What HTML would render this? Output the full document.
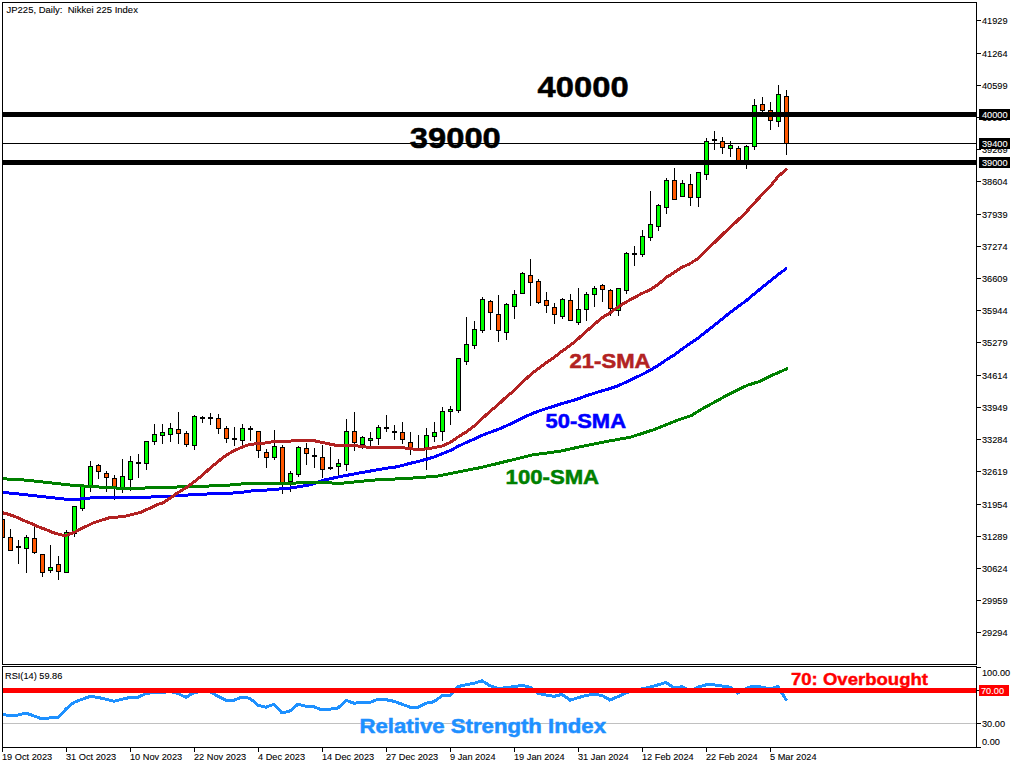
<!DOCTYPE html><html><head><meta charset="utf-8"><style>html,body{margin:0;padding:0;background:#fff;width:1024px;height:768px;overflow:hidden}svg{display:block}text{font-family:"Liberation Sans",sans-serif}</style></head><body>
<svg width="1024" height="768" viewBox="0 0 1024 768">
<rect x="0" y="0" width="1024" height="768" fill="#FFFFFF"/>
<defs><clipPath id="cm"><rect x="3" y="3" width="973" height="661"/></clipPath><clipPath id="cr"><rect x="3" y="667" width="973" height="80"/></clipPath></defs>
<g clip-path="url(#cm)">
<rect x="3" y="143" width="973" height="1" fill="#000000"/>
<g shape-rendering="crispEdges">
<rect x="2" y="519" width="1" height="19" fill="#000000"/>
<rect x="0" y="519" width="5" height="19" fill="#000000"/>
<rect x="1" y="520" width="3" height="17" fill="#FF5800"/>
<rect x="10" y="529" width="1" height="22" fill="#000000"/>
<rect x="8" y="537" width="5" height="14" fill="#000000"/>
<rect x="9" y="538" width="3" height="12" fill="#FF5800"/>
<rect x="18" y="540" width="1" height="24" fill="#000000"/>
<rect x="16" y="546" width="5" height="2" fill="#000000"/>
<rect x="26" y="535" width="1" height="38" fill="#000000"/>
<rect x="24" y="537" width="5" height="12" fill="#000000"/>
<rect x="25" y="538" width="3" height="10" fill="#00FF00"/>
<rect x="34" y="527" width="1" height="27" fill="#000000"/>
<rect x="32" y="538" width="5" height="15" fill="#000000"/>
<rect x="33" y="539" width="3" height="13" fill="#FF5800"/>
<rect x="42" y="554" width="1" height="23" fill="#000000"/>
<rect x="40" y="554" width="5" height="19" fill="#000000"/>
<rect x="41" y="555" width="3" height="17" fill="#FF5800"/>
<rect x="50" y="545" width="1" height="28" fill="#000000"/>
<rect x="48" y="567" width="5" height="4" fill="#000000"/>
<rect x="49" y="568" width="3" height="2" fill="#00FF00"/>
<rect x="58" y="556" width="1" height="24" fill="#000000"/>
<rect x="56" y="564" width="5" height="8" fill="#000000"/>
<rect x="57" y="565" width="3" height="6" fill="#FF5800"/>
<rect x="66" y="530" width="1" height="43" fill="#000000"/>
<rect x="64" y="532" width="5" height="41" fill="#000000"/>
<rect x="65" y="533" width="3" height="39" fill="#00FF00"/>
<rect x="74" y="506" width="1" height="31" fill="#000000"/>
<rect x="72" y="506" width="5" height="28" fill="#000000"/>
<rect x="73" y="507" width="3" height="26" fill="#00FF00"/>
<rect x="82" y="486" width="1" height="25" fill="#000000"/>
<rect x="80" y="486" width="5" height="23" fill="#000000"/>
<rect x="81" y="487" width="3" height="21" fill="#00FF00"/>
<rect x="90" y="461" width="1" height="31" fill="#000000"/>
<rect x="88" y="466" width="5" height="20" fill="#000000"/>
<rect x="89" y="467" width="3" height="18" fill="#00FF00"/>
<rect x="98" y="464" width="1" height="15" fill="#000000"/>
<rect x="96" y="465" width="5" height="7" fill="#000000"/>
<rect x="97" y="466" width="3" height="5" fill="#FF5800"/>
<rect x="106" y="471" width="1" height="21" fill="#000000"/>
<rect x="104" y="473" width="5" height="5" fill="#000000"/>
<rect x="105" y="474" width="3" height="3" fill="#FF5800"/>
<rect x="114" y="475" width="1" height="25" fill="#000000"/>
<rect x="112" y="478" width="5" height="9" fill="#000000"/>
<rect x="113" y="479" width="3" height="7" fill="#FF5800"/>
<rect x="122" y="459" width="1" height="34" fill="#000000"/>
<rect x="120" y="476" width="5" height="12" fill="#000000"/>
<rect x="121" y="477" width="3" height="10" fill="#00FF00"/>
<rect x="130" y="456" width="1" height="35" fill="#000000"/>
<rect x="128" y="461" width="5" height="19" fill="#000000"/>
<rect x="129" y="462" width="3" height="17" fill="#00FF00"/>
<rect x="138" y="454" width="1" height="24" fill="#000000"/>
<rect x="136" y="462" width="5" height="2" fill="#000000"/>
<rect x="146" y="441" width="1" height="29" fill="#000000"/>
<rect x="144" y="441" width="5" height="23" fill="#000000"/>
<rect x="145" y="442" width="3" height="21" fill="#00FF00"/>
<rect x="154" y="424" width="1" height="21" fill="#000000"/>
<rect x="152" y="434" width="5" height="8" fill="#000000"/>
<rect x="153" y="435" width="3" height="6" fill="#00FF00"/>
<rect x="162" y="424" width="1" height="20" fill="#000000"/>
<rect x="160" y="432" width="5" height="4" fill="#000000"/>
<rect x="161" y="433" width="3" height="2" fill="#00FF00"/>
<rect x="170" y="423" width="1" height="19" fill="#000000"/>
<rect x="168" y="428" width="5" height="7" fill="#000000"/>
<rect x="169" y="429" width="3" height="5" fill="#00FF00"/>
<rect x="178" y="412" width="1" height="32" fill="#000000"/>
<rect x="176" y="429" width="5" height="5" fill="#000000"/>
<rect x="177" y="430" width="3" height="3" fill="#FF5800"/>
<rect x="186" y="431" width="1" height="16" fill="#000000"/>
<rect x="184" y="433" width="5" height="12" fill="#000000"/>
<rect x="185" y="434" width="3" height="10" fill="#FF5800"/>
<rect x="194" y="415" width="1" height="35" fill="#000000"/>
<rect x="192" y="416" width="5" height="30" fill="#000000"/>
<rect x="193" y="417" width="3" height="28" fill="#00FF00"/>
<rect x="202" y="416" width="1" height="7" fill="#000000"/>
<rect x="200" y="417" width="5" height="2" fill="#000000"/>
<rect x="210" y="413" width="1" height="12" fill="#000000"/>
<rect x="208" y="417" width="5" height="2" fill="#000000"/>
<rect x="218" y="414" width="1" height="20" fill="#000000"/>
<rect x="216" y="418" width="5" height="11" fill="#000000"/>
<rect x="217" y="419" width="3" height="9" fill="#FF5800"/>
<rect x="226" y="426" width="1" height="17" fill="#000000"/>
<rect x="224" y="428" width="5" height="11" fill="#000000"/>
<rect x="225" y="429" width="3" height="9" fill="#FF5800"/>
<rect x="234" y="427" width="1" height="19" fill="#000000"/>
<rect x="232" y="438" width="5" height="2" fill="#000000"/>
<rect x="242" y="424" width="1" height="22" fill="#000000"/>
<rect x="240" y="428" width="5" height="13" fill="#000000"/>
<rect x="241" y="429" width="3" height="11" fill="#00FF00"/>
<rect x="250" y="426" width="1" height="15" fill="#000000"/>
<rect x="248" y="428" width="5" height="2" fill="#000000"/>
<rect x="258" y="431" width="1" height="27" fill="#000000"/>
<rect x="256" y="431" width="5" height="20" fill="#000000"/>
<rect x="257" y="432" width="3" height="18" fill="#FF5800"/>
<rect x="266" y="449" width="1" height="19" fill="#000000"/>
<rect x="264" y="452" width="5" height="6" fill="#000000"/>
<rect x="265" y="453" width="3" height="4" fill="#FF5800"/>
<rect x="274" y="430" width="1" height="30" fill="#000000"/>
<rect x="272" y="446" width="5" height="12" fill="#000000"/>
<rect x="273" y="447" width="3" height="10" fill="#00FF00"/>
<rect x="282" y="445" width="1" height="49" fill="#000000"/>
<rect x="280" y="447" width="5" height="36" fill="#000000"/>
<rect x="281" y="448" width="3" height="34" fill="#FF5800"/>
<rect x="290" y="471" width="1" height="21" fill="#000000"/>
<rect x="288" y="473" width="5" height="9" fill="#000000"/>
<rect x="289" y="474" width="3" height="7" fill="#00FF00"/>
<rect x="298" y="446" width="1" height="31" fill="#000000"/>
<rect x="296" y="447" width="5" height="28" fill="#000000"/>
<rect x="297" y="448" width="3" height="26" fill="#00FF00"/>
<rect x="306" y="443" width="1" height="22" fill="#000000"/>
<rect x="304" y="448" width="5" height="6" fill="#000000"/>
<rect x="305" y="449" width="3" height="4" fill="#FF5800"/>
<rect x="314" y="448" width="1" height="20" fill="#000000"/>
<rect x="312" y="455" width="5" height="2" fill="#000000"/>
<rect x="322" y="445" width="1" height="33" fill="#000000"/>
<rect x="320" y="457" width="5" height="13" fill="#000000"/>
<rect x="321" y="458" width="3" height="11" fill="#FF5800"/>
<rect x="330" y="447" width="1" height="23" fill="#000000"/>
<rect x="328" y="467" width="5" height="2" fill="#000000"/>
<rect x="338" y="459" width="1" height="17" fill="#000000"/>
<rect x="336" y="463" width="5" height="4" fill="#000000"/>
<rect x="337" y="464" width="3" height="2" fill="#00FF00"/>
<rect x="346" y="419" width="1" height="52" fill="#000000"/>
<rect x="344" y="431" width="5" height="34" fill="#000000"/>
<rect x="345" y="432" width="3" height="32" fill="#00FF00"/>
<rect x="354" y="412" width="1" height="39" fill="#000000"/>
<rect x="352" y="431" width="5" height="12" fill="#000000"/>
<rect x="353" y="432" width="3" height="10" fill="#FF5800"/>
<rect x="362" y="436" width="1" height="13" fill="#000000"/>
<rect x="360" y="437" width="5" height="8" fill="#000000"/>
<rect x="361" y="438" width="3" height="6" fill="#00FF00"/>
<rect x="370" y="432" width="1" height="14" fill="#000000"/>
<rect x="368" y="438" width="5" height="3" fill="#000000"/>
<rect x="369" y="439" width="3" height="1" fill="#00FF00"/>
<rect x="378" y="425" width="1" height="20" fill="#000000"/>
<rect x="376" y="427" width="5" height="12" fill="#000000"/>
<rect x="377" y="428" width="3" height="10" fill="#00FF00"/>
<rect x="386" y="415" width="1" height="17" fill="#000000"/>
<rect x="384" y="427" width="5" height="2" fill="#000000"/>
<rect x="394" y="425" width="1" height="15" fill="#000000"/>
<rect x="392" y="431" width="5" height="2" fill="#000000"/>
<rect x="402" y="422" width="1" height="22" fill="#000000"/>
<rect x="400" y="432" width="5" height="8" fill="#000000"/>
<rect x="401" y="433" width="3" height="6" fill="#FF5800"/>
<rect x="410" y="432" width="1" height="23" fill="#000000"/>
<rect x="408" y="442" width="5" height="7" fill="#000000"/>
<rect x="409" y="443" width="3" height="5" fill="#FF5800"/>
<rect x="418" y="435" width="1" height="15" fill="#000000"/>
<rect x="416" y="448" width="5" height="2" fill="#000000"/>
<rect x="426" y="428" width="1" height="42" fill="#000000"/>
<rect x="424" y="435" width="5" height="14" fill="#000000"/>
<rect x="425" y="436" width="3" height="12" fill="#00FF00"/>
<rect x="434" y="422" width="1" height="20" fill="#000000"/>
<rect x="432" y="432" width="5" height="5" fill="#000000"/>
<rect x="433" y="433" width="3" height="3" fill="#00FF00"/>
<rect x="442" y="407" width="1" height="34" fill="#000000"/>
<rect x="440" y="411" width="5" height="21" fill="#000000"/>
<rect x="441" y="412" width="3" height="19" fill="#00FF00"/>
<rect x="450" y="406" width="1" height="19" fill="#000000"/>
<rect x="448" y="409" width="5" height="3" fill="#000000"/>
<rect x="449" y="410" width="3" height="1" fill="#00FF00"/>
<rect x="458" y="358" width="1" height="55" fill="#000000"/>
<rect x="456" y="358" width="5" height="53" fill="#000000"/>
<rect x="457" y="359" width="3" height="51" fill="#00FF00"/>
<rect x="466" y="317" width="1" height="48" fill="#000000"/>
<rect x="464" y="344" width="5" height="18" fill="#000000"/>
<rect x="465" y="345" width="3" height="16" fill="#00FF00"/>
<rect x="474" y="321" width="1" height="28" fill="#000000"/>
<rect x="472" y="329" width="5" height="17" fill="#000000"/>
<rect x="473" y="330" width="3" height="15" fill="#00FF00"/>
<rect x="482" y="297" width="1" height="36" fill="#000000"/>
<rect x="480" y="299" width="5" height="32" fill="#000000"/>
<rect x="481" y="300" width="3" height="30" fill="#00FF00"/>
<rect x="490" y="300" width="1" height="30" fill="#000000"/>
<rect x="488" y="301" width="5" height="12" fill="#000000"/>
<rect x="489" y="302" width="3" height="10" fill="#FF5800"/>
<rect x="498" y="295" width="1" height="47" fill="#000000"/>
<rect x="496" y="314" width="5" height="17" fill="#000000"/>
<rect x="497" y="315" width="3" height="15" fill="#FF5800"/>
<rect x="506" y="303" width="1" height="37" fill="#000000"/>
<rect x="504" y="304" width="5" height="29" fill="#000000"/>
<rect x="505" y="305" width="3" height="27" fill="#00FF00"/>
<rect x="514" y="290" width="1" height="29" fill="#000000"/>
<rect x="512" y="294" width="5" height="13" fill="#000000"/>
<rect x="513" y="295" width="3" height="11" fill="#00FF00"/>
<rect x="522" y="272" width="1" height="22" fill="#000000"/>
<rect x="520" y="273" width="5" height="21" fill="#000000"/>
<rect x="521" y="274" width="3" height="19" fill="#00FF00"/>
<rect x="530" y="259" width="1" height="47" fill="#000000"/>
<rect x="528" y="275" width="5" height="8" fill="#000000"/>
<rect x="529" y="276" width="3" height="6" fill="#FF5800"/>
<rect x="538" y="279" width="1" height="25" fill="#000000"/>
<rect x="536" y="281" width="5" height="22" fill="#000000"/>
<rect x="537" y="282" width="3" height="20" fill="#FF5800"/>
<rect x="546" y="292" width="1" height="21" fill="#000000"/>
<rect x="544" y="300" width="5" height="6" fill="#000000"/>
<rect x="545" y="301" width="3" height="4" fill="#FF5800"/>
<rect x="554" y="303" width="1" height="21" fill="#000000"/>
<rect x="552" y="307" width="5" height="8" fill="#000000"/>
<rect x="553" y="308" width="3" height="6" fill="#FF5800"/>
<rect x="562" y="298" width="1" height="21" fill="#000000"/>
<rect x="560" y="299" width="5" height="18" fill="#000000"/>
<rect x="561" y="300" width="3" height="16" fill="#00FF00"/>
<rect x="570" y="294" width="1" height="27" fill="#000000"/>
<rect x="568" y="300" width="5" height="21" fill="#000000"/>
<rect x="569" y="301" width="3" height="19" fill="#FF5800"/>
<rect x="578" y="288" width="1" height="37" fill="#000000"/>
<rect x="576" y="309" width="5" height="14" fill="#000000"/>
<rect x="577" y="310" width="3" height="12" fill="#00FF00"/>
<rect x="586" y="292" width="1" height="29" fill="#000000"/>
<rect x="584" y="294" width="5" height="16" fill="#000000"/>
<rect x="585" y="295" width="3" height="14" fill="#00FF00"/>
<rect x="594" y="286" width="1" height="21" fill="#000000"/>
<rect x="592" y="288" width="5" height="7" fill="#000000"/>
<rect x="593" y="289" width="3" height="5" fill="#00FF00"/>
<rect x="602" y="284" width="1" height="18" fill="#000000"/>
<rect x="600" y="285" width="5" height="5" fill="#000000"/>
<rect x="601" y="286" width="3" height="3" fill="#FF5800"/>
<rect x="610" y="289" width="1" height="27" fill="#000000"/>
<rect x="608" y="290" width="5" height="19" fill="#000000"/>
<rect x="609" y="291" width="3" height="17" fill="#FF5800"/>
<rect x="618" y="288" width="1" height="28" fill="#000000"/>
<rect x="616" y="288" width="5" height="23" fill="#000000"/>
<rect x="617" y="289" width="3" height="21" fill="#00FF00"/>
<rect x="626" y="252" width="1" height="42" fill="#000000"/>
<rect x="624" y="253" width="5" height="38" fill="#000000"/>
<rect x="625" y="254" width="3" height="36" fill="#00FF00"/>
<rect x="634" y="246" width="1" height="20" fill="#000000"/>
<rect x="632" y="253" width="5" height="2" fill="#000000"/>
<rect x="642" y="230" width="1" height="27" fill="#000000"/>
<rect x="640" y="236" width="5" height="19" fill="#000000"/>
<rect x="641" y="237" width="3" height="17" fill="#00FF00"/>
<rect x="650" y="191" width="1" height="50" fill="#000000"/>
<rect x="648" y="224" width="5" height="14" fill="#000000"/>
<rect x="649" y="225" width="3" height="12" fill="#00FF00"/>
<rect x="658" y="204" width="1" height="27" fill="#000000"/>
<rect x="656" y="205" width="5" height="22" fill="#000000"/>
<rect x="657" y="206" width="3" height="20" fill="#00FF00"/>
<rect x="666" y="178" width="1" height="36" fill="#000000"/>
<rect x="664" y="180" width="5" height="28" fill="#000000"/>
<rect x="665" y="181" width="3" height="26" fill="#00FF00"/>
<rect x="674" y="168" width="1" height="32" fill="#000000"/>
<rect x="672" y="180" width="5" height="20" fill="#000000"/>
<rect x="673" y="181" width="3" height="18" fill="#FF5800"/>
<rect x="682" y="180" width="1" height="17" fill="#000000"/>
<rect x="680" y="183" width="5" height="14" fill="#000000"/>
<rect x="681" y="184" width="3" height="12" fill="#00FF00"/>
<rect x="690" y="174" width="1" height="32" fill="#000000"/>
<rect x="688" y="184" width="5" height="14" fill="#000000"/>
<rect x="689" y="185" width="3" height="12" fill="#FF5800"/>
<rect x="698" y="172" width="1" height="35" fill="#000000"/>
<rect x="696" y="172" width="5" height="26" fill="#000000"/>
<rect x="697" y="173" width="3" height="24" fill="#00FF00"/>
<rect x="706" y="138" width="1" height="42" fill="#000000"/>
<rect x="704" y="141" width="5" height="34" fill="#000000"/>
<rect x="705" y="142" width="3" height="32" fill="#00FF00"/>
<rect x="714" y="131" width="1" height="19" fill="#000000"/>
<rect x="712" y="139" width="5" height="2" fill="#000000"/>
<rect x="722" y="137" width="1" height="17" fill="#000000"/>
<rect x="720" y="141" width="5" height="7" fill="#000000"/>
<rect x="721" y="142" width="3" height="5" fill="#FF5800"/>
<rect x="730" y="141" width="1" height="16" fill="#000000"/>
<rect x="728" y="145" width="5" height="4" fill="#000000"/>
<rect x="729" y="146" width="3" height="2" fill="#00FF00"/>
<rect x="738" y="146" width="1" height="18" fill="#000000"/>
<rect x="736" y="148" width="5" height="15" fill="#000000"/>
<rect x="737" y="149" width="3" height="13" fill="#FF5800"/>
<rect x="746" y="145" width="1" height="24" fill="#000000"/>
<rect x="744" y="146" width="5" height="18" fill="#000000"/>
<rect x="745" y="147" width="3" height="16" fill="#00FF00"/>
<rect x="754" y="99" width="1" height="51" fill="#000000"/>
<rect x="752" y="105" width="5" height="42" fill="#000000"/>
<rect x="753" y="106" width="3" height="40" fill="#00FF00"/>
<rect x="762" y="97" width="1" height="15" fill="#000000"/>
<rect x="760" y="104" width="5" height="7" fill="#000000"/>
<rect x="761" y="105" width="3" height="5" fill="#FF5800"/>
<rect x="770" y="102" width="1" height="28" fill="#000000"/>
<rect x="768" y="110" width="5" height="11" fill="#000000"/>
<rect x="769" y="111" width="3" height="9" fill="#FF5800"/>
<rect x="778" y="85" width="1" height="42" fill="#000000"/>
<rect x="776" y="94" width="5" height="28" fill="#000000"/>
<rect x="777" y="95" width="3" height="26" fill="#00FF00"/>
<rect x="786" y="90" width="1" height="65" fill="#000000"/>
<rect x="784" y="96" width="5" height="48" fill="#000000"/>
<rect x="785" y="97" width="3" height="46" fill="#FF5800"/>
</g>
<polyline points="3.0,492.4 23.4,494.5 46.9,497.1 65.6,499.2 78.0,499.2 96.9,497.3 125.0,497.3 160.0,496.9 199.0,494.3 238.0,492.8 253.8,490.6 262.7,490.4 279.3,489.0 294.0,487.6 310.5,484.7 323.0,480.3 338.0,477.0 359.0,473.0 390.3,467.6 394.0,467.4 402.0,465.5 410.0,463.4 418.0,461.5 426.0,459.4 434.0,457.0 442.0,453.8 450.0,450.7 458.0,446.4 466.0,442.6 474.0,439.1 482.0,435.4 490.0,432.3 498.0,429.5 506.0,426.0 514.0,422.2 522.0,418.1 530.0,414.5 538.0,411.3 546.0,408.6 554.0,406.2 562.0,403.5 570.0,401.4 578.0,398.9 586.0,395.9 594.0,393.3 602.0,390.8 610.0,388.6 618.0,385.8 626.0,382.1 634.0,378.4 642.0,374.5 650.0,370.4 658.0,365.5 666.0,360.0 674.0,355.1 682.0,349.1 690.0,343.6 698.0,338.1 706.0,331.8 714.0,325.5 722.0,319.1 730.0,312.6 738.0,306.6 746.0,300.9 754.0,294.1 762.0,287.6 770.0,281.2 778.0,274.6 786.0,268.9" fill="none" stroke="#0000FF" stroke-width="3" stroke-linejoin="round" stroke-linecap="round" shape-rendering="crispEdges"/>
<polyline points="3.0,478.8 20.3,479.6 46.9,482.4 70.0,485.0 93.8,486.7 118.8,488.2 140.6,488.2 160.0,487.4 199.0,486.5 230.0,485.0 247.5,483.4 285.0,483.4 320.0,482.2 338.8,483.5 374.7,480.0 406.0,478.5 437.2,476.2 460.6,471.5 480.0,467.7 500.8,462.7 532.0,455.0 560.0,451.2 583.4,446.1 606.9,441.4 630.3,437.2 653.7,429.7 677.2,420.3 691.2,415.6 700.6,409.8 724.0,396.9 747.5,385.2 759.2,381.6 770.9,375.8 786.9,368.8" fill="none" stroke="#008000" stroke-width="3" stroke-linejoin="round" stroke-linecap="round" shape-rendering="crispEdges"/>
<polyline points="3.0,512.9 7.8,514.1 15.6,516.8 23.4,520.3 31.2,523.4 39.0,527.0 46.9,530.0 54.7,533.2 62.5,535.2 66.4,535.2 74.2,532.4 80.0,529.3 94.0,522.6 109.0,517.9 125.0,516.3 140.6,512.4 160.0,503.5 162.0,503.4 170.0,498.2 178.0,492.6 186.0,487.8 194.0,482.0 202.0,475.6 210.0,468.2 218.0,461.6 226.0,455.3 234.0,450.8 242.0,447.1 250.0,444.4 258.0,443.6 266.0,442.9 274.0,441.5 282.0,441.3 290.0,441.1 298.0,440.5 306.0,440.0 314.0,440.7 322.0,442.4 330.0,444.1 338.0,445.7 346.0,445.6 354.0,445.5 362.0,446.5 370.0,447.5 378.0,448.0 386.0,447.9 394.0,447.6 402.0,447.7 410.0,448.6 418.0,449.6 426.0,448.9 434.0,447.7 442.0,446.0 450.0,442.5 458.0,437.0 466.0,432.1 474.0,426.2 482.0,418.8 490.0,411.3 498.0,404.8 506.0,397.2 514.0,390.7 522.0,382.6 530.0,375.2 538.0,368.8 546.0,362.9 554.0,357.5 562.0,351.2 570.0,345.6 578.0,338.9 586.0,331.6 594.0,324.6 602.0,317.8 610.0,312.9 618.0,307.1 626.0,302.1 634.0,297.8 642.0,293.4 650.0,289.8 658.0,284.7 666.0,277.6 674.0,272.6 682.0,267.3 690.0,263.7 698.0,258.4 706.0,250.8 714.0,242.9 722.0,234.9 730.0,227.6 738.0,220.1 746.0,212.3 754.0,203.3 762.0,194.8 770.0,186.8 778.0,176.6 786.0,169.7" fill="none" stroke="#B22222" stroke-width="3" stroke-linejoin="round" stroke-linecap="round" shape-rendering="crispEdges"/>
<g shape-rendering="crispEdges">
<rect x="3" y="112" width="973" height="5" fill="#000000"/>
<rect x="3" y="160" width="973" height="5" fill="#000000"/>
</g>
<text x="537.6" y="96.9" font-size="30.2" stroke="#000" stroke-width="0.5" font-weight="bold" fill="#000" textLength="91" lengthAdjust="spacingAndGlyphs">40000</text>
<text x="409.8" y="147.8" font-size="30.2" stroke="#000" stroke-width="0.5" font-weight="bold" fill="#000" textLength="91" lengthAdjust="spacingAndGlyphs">39000</text>
<text x="569.5" y="368.3" font-size="19.8" font-weight="bold" fill="#B22222" stroke="#B22222" stroke-width="0.5" textLength="81" lengthAdjust="spacingAndGlyphs">21-SMA</text>
<text x="545.5" y="428.3" font-size="19.8" font-weight="bold" fill="#0000FF" stroke="#0000FF" stroke-width="0.5" textLength="80.5" lengthAdjust="spacingAndGlyphs">50-SMA</text>
<text x="505.6" y="484.3" font-size="19.8" font-weight="bold" fill="#008000" stroke="#008000" stroke-width="0.5" textLength="93.5" lengthAdjust="spacingAndGlyphs">100-SMA</text>
</g>
<text transform="translate(6.5,13) scale(0.97,1)" font-size="9.8" fill="#000" stroke="#000" stroke-width="0.1">JP225,&#160;Daily:&#160;&#160;Nikkei&#160;225&#160;Index</text>
<g clip-path="url(#cr)">
<rect x="3" y="723" width="973" height="1" fill="#C0C0C0"/>
<text x="359.5" y="733" font-size="19.5" font-weight="bold" fill="#1E90FF" stroke="#1E90FF" stroke-width="0.5" textLength="246.5" lengthAdjust="spacingAndGlyphs">Relative Strength Index</text>
<polyline points="2.0,714.0 10.0,716.0 18.0,715.0 26.0,713.0 34.0,716.0 42.0,718.9 50.0,717.9 58.0,717.9 66.0,709.0 74.0,702.3 82.0,699.3 90.0,696.4 98.0,697.4 106.0,699.3 114.0,701.3 122.0,699.3 130.0,697.4 138.0,697.4 146.0,693.5 154.0,692.5 162.0,692.5 170.0,691.5 178.0,693.5 186.0,697.4 194.0,692.5 202.0,691.5 210.0,691.5 218.0,696.4 226.0,700.3 234.0,700.3 242.0,697.0 250.0,698.4 258.0,705.2 266.0,707.2 274.0,704.2 282.0,713.0 290.0,711.0 298.0,704.2 306.0,706.2 314.0,706.8 322.0,710.0 330.0,709.1 338.0,708.1 346.0,700.3 354.0,703.2 362.0,702.3 370.0,702.3 378.0,699.3 386.0,699.7 394.0,701.3 402.0,704.2 410.0,707.2 418.0,707.2 426.0,703.2 434.0,701.7 442.0,695.8 450.0,695.8 458.0,686.6 466.0,684.7 474.0,683.3 482.0,680.8 490.0,685.7 498.0,688.6 506.0,687.6 514.0,686.6 522.0,685.3 530.0,687.2 538.0,693.5 546.0,695.0 554.0,696.4 562.0,694.3 570.0,700.1 578.0,697.8 586.0,695.4 594.0,694.3 602.0,695.4 610.0,700.1 618.0,696.6 626.0,692.6 634.0,690.7 642.0,688.9 650.0,687.2 658.0,684.9 666.0,682.5 674.0,687.9 682.0,686.8 690.0,690.7 698.0,687.2 706.0,684.9 714.0,684.9 722.0,686.0 730.0,687.2 738.0,693.1 746.0,688.4 754.0,686.0 762.0,687.2 770.0,688.9 778.0,686.5 786.0,699.7" fill="none" stroke="#1E90FF" stroke-width="3" stroke-linejoin="round" stroke-linecap="round" shape-rendering="crispEdges"/>
<rect x="3" y="688" width="973" height="5" fill="#FF0000"/>
<text x="791" y="685" font-size="16.5" font-weight="bold" fill="#FF0000" stroke="#FF0000" stroke-width="0.4" textLength="137" lengthAdjust="spacingAndGlyphs">70: Overbought</text>
</g>
<text transform="translate(5,679) scale(0.94,1)" font-size="9.8" fill="#000" stroke="#000" stroke-width="0.1">RSI(14)&#160;59.86</text>
<g shape-rendering="crispEdges">
<rect x="2" y="2" width="975" height="1" fill="#000"/>
<rect x="2" y="664" width="975" height="1" fill="#000"/>
<rect x="2" y="2" width="1" height="663" fill="#000"/>
<rect x="976" y="2" width="1" height="663" fill="#000"/>
<rect x="2" y="666" width="975" height="1" fill="#000"/>
<rect x="2" y="747" width="975" height="1" fill="#000"/>
<rect x="2" y="666" width="1" height="82" fill="#000"/>
<rect x="976" y="666" width="1" height="82" fill="#000"/>
<rect x="977" y="20" width="4" height="1" fill="#000"/>
<text transform="translate(982,24) scale(0.94,1)" font-size="9.8" fill="#000" stroke="#000" stroke-width="0.1">41929</text>
<rect x="977" y="53" width="4" height="1" fill="#000"/>
<text transform="translate(982,57) scale(0.94,1)" font-size="9.8" fill="#000" stroke="#000" stroke-width="0.1">41264</text>
<rect x="977" y="85" width="4" height="1" fill="#000"/>
<text transform="translate(982,89) scale(0.94,1)" font-size="9.8" fill="#000" stroke="#000" stroke-width="0.1">40599</text>
<rect x="977" y="117" width="4" height="1" fill="#000"/>
<text transform="translate(982,121) scale(0.94,1)" font-size="9.8" fill="#000" stroke="#000" stroke-width="0.1">39934</text>
<rect x="977" y="149" width="4" height="1" fill="#000"/>
<text transform="translate(982,153) scale(0.94,1)" font-size="9.8" fill="#000" stroke="#000" stroke-width="0.1">39269</text>
<rect x="977" y="181" width="4" height="1" fill="#000"/>
<text transform="translate(982,185) scale(0.94,1)" font-size="9.8" fill="#000" stroke="#000" stroke-width="0.1">38604</text>
<rect x="977" y="214" width="4" height="1" fill="#000"/>
<text transform="translate(982,218) scale(0.94,1)" font-size="9.8" fill="#000" stroke="#000" stroke-width="0.1">37939</text>
<rect x="977" y="246" width="4" height="1" fill="#000"/>
<text transform="translate(982,250) scale(0.94,1)" font-size="9.8" fill="#000" stroke="#000" stroke-width="0.1">37274</text>
<rect x="977" y="278" width="4" height="1" fill="#000"/>
<text transform="translate(982,282) scale(0.94,1)" font-size="9.8" fill="#000" stroke="#000" stroke-width="0.1">36609</text>
<rect x="977" y="310" width="4" height="1" fill="#000"/>
<text transform="translate(982,314) scale(0.94,1)" font-size="9.8" fill="#000" stroke="#000" stroke-width="0.1">35944</text>
<rect x="977" y="342" width="4" height="1" fill="#000"/>
<text transform="translate(982,346) scale(0.94,1)" font-size="9.8" fill="#000" stroke="#000" stroke-width="0.1">35279</text>
<rect x="977" y="375" width="4" height="1" fill="#000"/>
<text transform="translate(982,379) scale(0.94,1)" font-size="9.8" fill="#000" stroke="#000" stroke-width="0.1">34614</text>
<rect x="977" y="407" width="4" height="1" fill="#000"/>
<text transform="translate(982,411) scale(0.94,1)" font-size="9.8" fill="#000" stroke="#000" stroke-width="0.1">33949</text>
<rect x="977" y="439" width="4" height="1" fill="#000"/>
<text transform="translate(982,443) scale(0.94,1)" font-size="9.8" fill="#000" stroke="#000" stroke-width="0.1">33284</text>
<rect x="977" y="471" width="4" height="1" fill="#000"/>
<text transform="translate(982,475) scale(0.94,1)" font-size="9.8" fill="#000" stroke="#000" stroke-width="0.1">32619</text>
<rect x="977" y="504" width="4" height="1" fill="#000"/>
<text transform="translate(982,508) scale(0.94,1)" font-size="9.8" fill="#000" stroke="#000" stroke-width="0.1">31954</text>
<rect x="977" y="536" width="4" height="1" fill="#000"/>
<text transform="translate(982,540) scale(0.94,1)" font-size="9.8" fill="#000" stroke="#000" stroke-width="0.1">31289</text>
<rect x="977" y="568" width="4" height="1" fill="#000"/>
<text transform="translate(982,572) scale(0.94,1)" font-size="9.8" fill="#000" stroke="#000" stroke-width="0.1">30624</text>
<rect x="977" y="600" width="4" height="1" fill="#000"/>
<text transform="translate(982,604) scale(0.94,1)" font-size="9.8" fill="#000" stroke="#000" stroke-width="0.1">29959</text>
<rect x="977" y="632" width="4" height="1" fill="#000"/>
<text transform="translate(982,636) scale(0.94,1)" font-size="9.8" fill="#000" stroke="#000" stroke-width="0.1">29294</text>
<rect x="979" y="109" width="31" height="11" fill="#000"/>
<text transform="translate(982,118) scale(0.94,1)" font-size="9.8" fill="#FFF" stroke="#FFF" stroke-width="0.1">40000</text>
<rect x="979" y="138" width="31" height="11" fill="#000"/>
<text transform="translate(982,147) scale(0.94,1)" font-size="9.8" fill="#FFF" stroke="#FFF" stroke-width="0.1">39400</text>
<rect x="979" y="157" width="31" height="11" fill="#000"/>
<text transform="translate(982,166) scale(0.94,1)" font-size="9.8" fill="#FFF" stroke="#FFF" stroke-width="0.1">39000</text>
<rect x="977" y="667" width="4" height="1" fill="#000"/>
<text transform="translate(982,676) scale(0.94,1)" font-size="9.8" fill="#000" stroke="#000" stroke-width="0.1">100.00</text>
<rect x="977" y="690" width="2" height="1" fill="#000"/>
<rect x="979" y="685" width="30" height="11" fill="#FF0000"/>
<text transform="translate(981,694) scale(0.94,1)" font-size="9.8" fill="#FFF" stroke="#FFF" stroke-width="0.1">70.00</text>
<rect x="977" y="723" width="4" height="1" fill="#000"/>
<text transform="translate(982,727) scale(0.94,1)" font-size="9.8" fill="#000" stroke="#000" stroke-width="0.1">30.00</text>
<rect x="977" y="747" width="4" height="1" fill="#000"/>
<text transform="translate(982,745) scale(0.94,1)" font-size="9.8" fill="#000" stroke="#000" stroke-width="0.1">0.00</text>
<rect x="2" y="748" width="1" height="4" fill="#000"/>
<text transform="translate(2,760) scale(0.94,1)" font-size="9.8" fill="#000" stroke="#000" stroke-width="0.1">19&#160;Oct&#160;2023</text>
<rect x="66" y="748" width="1" height="4" fill="#000"/>
<text transform="translate(66,760) scale(0.94,1)" font-size="9.8" fill="#000" stroke="#000" stroke-width="0.1">31&#160;Oct&#160;2023</text>
<rect x="130" y="748" width="1" height="4" fill="#000"/>
<text transform="translate(130,760) scale(0.94,1)" font-size="9.8" fill="#000" stroke="#000" stroke-width="0.1">10&#160;Nov&#160;2023</text>
<rect x="194" y="748" width="1" height="4" fill="#000"/>
<text transform="translate(194,760) scale(0.94,1)" font-size="9.8" fill="#000" stroke="#000" stroke-width="0.1">22&#160;Nov&#160;2023</text>
<rect x="258" y="748" width="1" height="4" fill="#000"/>
<text transform="translate(258,760) scale(0.94,1)" font-size="9.8" fill="#000" stroke="#000" stroke-width="0.1">4&#160;Dec&#160;2023</text>
<rect x="322" y="748" width="1" height="4" fill="#000"/>
<text transform="translate(322,760) scale(0.94,1)" font-size="9.8" fill="#000" stroke="#000" stroke-width="0.1">14&#160;Dec&#160;2023</text>
<rect x="386" y="748" width="1" height="4" fill="#000"/>
<text transform="translate(386,760) scale(0.94,1)" font-size="9.8" fill="#000" stroke="#000" stroke-width="0.1">27&#160;Dec&#160;2023</text>
<rect x="450" y="748" width="1" height="4" fill="#000"/>
<text transform="translate(450,760) scale(0.94,1)" font-size="9.8" fill="#000" stroke="#000" stroke-width="0.1">9&#160;Jan&#160;2024</text>
<rect x="514" y="748" width="1" height="4" fill="#000"/>
<text transform="translate(514,760) scale(0.94,1)" font-size="9.8" fill="#000" stroke="#000" stroke-width="0.1">19&#160;Jan&#160;2024</text>
<rect x="578" y="748" width="1" height="4" fill="#000"/>
<text transform="translate(578,760) scale(0.94,1)" font-size="9.8" fill="#000" stroke="#000" stroke-width="0.1">31&#160;Jan&#160;2024</text>
<rect x="642" y="748" width="1" height="4" fill="#000"/>
<text transform="translate(642,760) scale(0.94,1)" font-size="9.8" fill="#000" stroke="#000" stroke-width="0.1">12&#160;Feb&#160;2024</text>
<rect x="706" y="748" width="1" height="4" fill="#000"/>
<text transform="translate(706,760) scale(0.94,1)" font-size="9.8" fill="#000" stroke="#000" stroke-width="0.1">22&#160;Feb&#160;2024</text>
<rect x="770" y="748" width="1" height="4" fill="#000"/>
<text transform="translate(770,760) scale(0.94,1)" font-size="9.8" fill="#000" stroke="#000" stroke-width="0.1">5&#160;Mar&#160;2024</text>
</g>
</svg></body></html>
